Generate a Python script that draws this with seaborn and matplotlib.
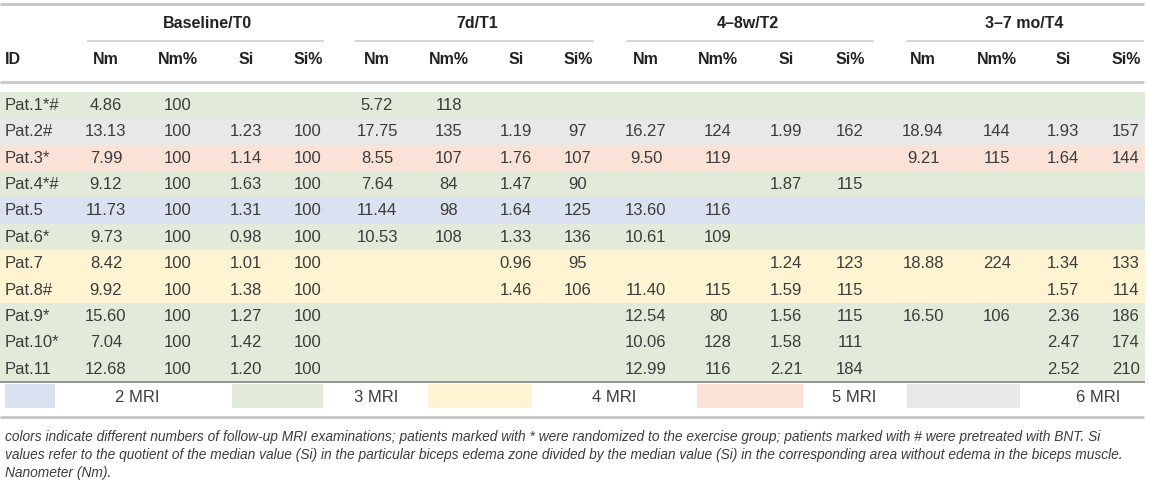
import matplotlib
matplotlib.use("Agg")
import matplotlib.pyplot as plt
from matplotlib.colors import ListedColormap
import numpy as np
import seaborn as sns

# ---- data ----
patients = ["Pat.1*#", "Pat.2#", "Pat.3*", "Pat.4*#", "Pat.5", "Pat.6*",
            "Pat.7", "Pat.8#", "Pat.9*", "Pat.10*", "Pat.11"]
mri_count = [3, 6, 5, 3, 2, 3, 4, 4, 3, 3, 3]

timepoints = ["Baseline/T0", "7d/T1", "4–8w/T2", "3–7 mo/T4"]
subcols = ["Nm", "Nm%", "Si", "Si%"]

N = None
nm_t0 = [4.86, 13.13, 7.99, 9.12, 11.73, 9.73, 8.42, 9.92, 15.60, 7.04, 12.68]
nmp_t0 = [100, 100, 100, 100, 100, 100, 100, 100, 100, 100, 100]
si_t0 = [N, 1.23, 1.14, 1.63, 1.31, 0.98, 1.01, 1.38, 1.27, 1.42, 1.20]
sip_t0 = [N, 100, 100, 100, 100, 100, 100, 100, 100, 100, 100]

nm_t1 = [5.72, 17.75, 8.55, 7.64, 11.44, 10.53, N, N, N, N, N]
nmp_t1 = [118, 135, 107, 84, 98, 108, N, N, N, N, N]
si_t1 = [N, 1.19, 1.76, 1.47, 1.64, 1.33, 0.96, 1.46, N, N, N]
sip_t1 = [N, 97, 107, 90, 125, 136, 95, 106, N, N, N]

nm_t2 = [N, 16.27, 9.50, N, 13.60, 10.61, N, 11.40, 12.54, 10.06, 12.99]
nmp_t2 = [N, 124, 119, N, 116, 109, N, 115, 80, 128, 116]
si_t2 = [N, 1.99, N, 1.87, N, N, 1.24, 1.59, 1.56, 1.58, 2.21]
sip_t2 = [N, 162, N, 115, N, N, 123, 115, 115, 111, 184]

nm_t4 = [N, 18.94, 9.21, N, N, N, 18.88, N, 16.50, N, N]
nmp_t4 = [N, 144, 115, N, N, N, 224, N, 106, N, N]
si_t4 = [N, 1.93, 1.64, N, N, N, 1.34, 1.57, 2.36, 2.47, 2.52]
sip_t4 = [N, 157, 144, N, N, N, 133, 114, 186, 174, 210]

mri_levels = [2, 3, 4, 5, 6]
mri_labels = ["2 MRI", "3 MRI", "4 MRI", "5 MRI", "6 MRI"]
mri_colors = ["#dae1f0", "#e2ebd9", "#fff4d2", "#fae3d6", "#e8e8e8"]

footnote = [
    "colors indicate different numbers of follow-up MRI examinations; patients marked with * were randomized to the exercise group; patients marked with # were pretreated with BNT. Si",
    "values refer to the quotient of the median value (Si) in the particular biceps edema zone divided by the median value (Si) in the corresponding area without edema in the biceps muscle.",
    "Nanometer (Nm).",
]

columns = [nm_t0, nmp_t0, si_t0, sip_t0, nm_t1, nmp_t1, si_t1, sip_t1,
           nm_t2, nmp_t2, si_t2, sip_t2, nm_t4, nmp_t4, si_t4, sip_t4]

# ---- layout (pixels) ----
W, H = 1149, 486
col_x = [106, 178, 246, 308, 377, 449, 516, 578,
         646, 718, 786, 850, 923, 997, 1063, 1126]
group_lines = [(87, 324), (355, 594), (626, 874), (906, 1144)]
band_top, row_h = 92, 26.4
band_bottom = band_top + row_h * len(patients)
legend_patch = [(5, 55), (232, 323), (428, 532), (697, 803), (907, 1020)]
legend_text_x = [137, 376, 614, 854, 1098]

FS_HEAD = 11.5
FS = 12
TXT = "#3c3c3c"

sns.set_theme(style="white")
plt.rcParams["font.family"] = ["Liberation Sans", "DejaVu Sans"]

fig = plt.figure(figsize=(W / 100, H / 100), dpi=100)

# row colour bands via seaborn heatmap
hax = fig.add_axes([0, 1 - band_bottom / H, 1145 / W, (band_bottom - band_top) / H])
codes = np.array([mri_levels.index(m) for m in mri_count]).reshape(-1, 1)
sns.heatmap(codes, ax=hax, cmap=ListedColormap(mri_colors), vmin=-0.5,
            vmax=len(mri_levels) - 0.5, cbar=False,
            xticklabels=False, yticklabels=False)
hax.axis("off")

ax = fig.add_axes([0, 0, 1, 1])
ax.set_xlim(0, W)
ax.set_ylim(H, 0)
ax.axis("off")
ax.patch.set_alpha(0)

# rules
ax.hlines(4, 0, 1144, color="#c4c4c4", lw=2)
for x0, x1 in group_lines:
    ax.hlines(41, x0, x1, color="#cfcfcf", lw=1.2)
ax.hlines(82, 0, 1144, color="#c8c8c8", lw=2)
ax.hlines(band_bottom, 0, 1145, color="#8c8c8c", lw=1.3)
ax.hlines(417, 0, 1144, color="#c4c4c4", lw=2)

# headers
for g, name in enumerate(timepoints):
    xc = (col_x[4 * g] + col_x[4 * g + 3]) / 2
    ax.text(xc, 24, name, ha="center", va="center", fontsize=FS_HEAD,
            fontweight="bold", color="#222222")
ax.text(5, 60, "ID", ha="left", va="center", fontsize=FS_HEAD,
        fontweight="bold", color="#222222")
for j, x in enumerate(col_x):
    ax.text(x, 60, subcols[j % 4], ha="center", va="center", fontsize=FS_HEAD,
            fontweight="bold", color="#222222")

# body
for i, pid in enumerate(patients):
    y = band_top + row_h * (i + 0.5)
    ax.text(5, y, pid, ha="left", va="center", fontsize=FS, color=TXT)
    for j, col in enumerate(columns):
        v = col[i]
        if v is None:
            continue
        s = f"{v:.2f}" if j % 2 == 0 else f"{v:d}"
        ax.text(col_x[j], y, s, ha="center", va="center", fontsize=FS, color=TXT)

# legend row
for (x0, x1), c, lab, tx in zip(legend_patch, mri_colors, mri_labels, legend_text_x):
    ax.barh(396, x1 - x0, left=x0, height=24, color=c, lw=0)
    ax.text(tx, 397, lab, ha="center", va="center", fontsize=FS, color=TXT)

# footnote
for k, line in enumerate(footnote):
    ax.text(5, 437 + 18 * k, line, ha="left", va="center", fontsize=9.95,
            style="italic", color=TXT)

fig.savefig("out.png", dpi=100)
